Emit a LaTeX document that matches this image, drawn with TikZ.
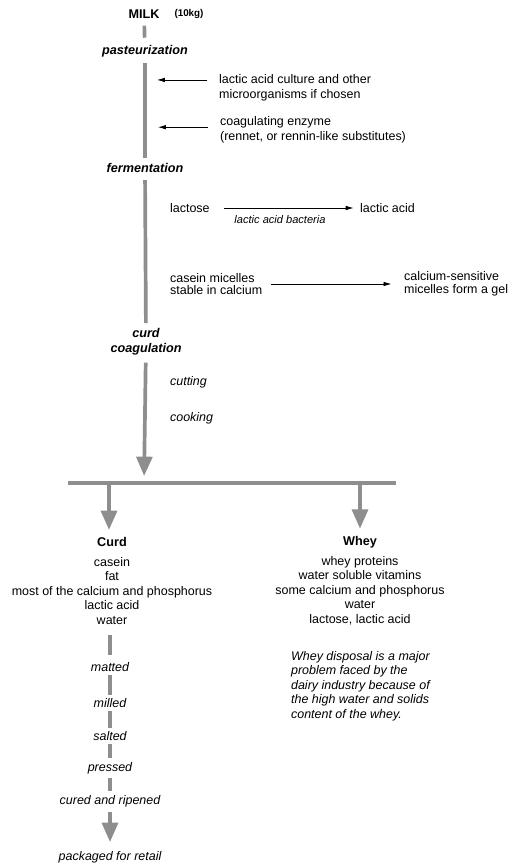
\documentclass[tikz,border=0pt]{standalone}
\usepackage{fontspec}
\setmainfont{Liberation Sans}
\usetikzlibrary{arrows.meta}

\definecolor{Cbargray}{HTML}{8E8E8E}

\begin{document}
\begin{tikzpicture}[x=0.02cm,y=-0.02cm,
	txt/.style={font=\fontsize{7.1}{8.3}\selectfont,inner sep=1pt},
	head/.style={txt,font=\fontsize{7.2}{8.3}\selectfont\bfseries},
	stage/.style={txt,font=\fontsize{7.2}{8.3}\selectfont\bfseries\itshape},
	proc/.style={txt,font=\fontsize{7.1}{8.3}\selectfont\itshape},
	flow/.style={Cbargray,line width=2.1pt},
	flowarrow/.style={flow,-{Triangle[width=9pt,length=11pt]}},
	feed/.style={black,line width=0.45pt,-{Latex[length=4.5pt,width=2.6pt]}}]
	\useasboundingbox (0,0) rectangle (520,865);
	% main line
	\node[head] (milk) at (144,14) {MILK};
	\node[txt,font=\fontsize{5.6}{7}\selectfont\bfseries] (mass) at (189,14) {(10kg)};
	\node[stage] (pasteur) at (145,51) {pasteurization};
	\node[stage] (ferment) at (145,168) {fermentation};
	\node[stage,align=center] (coag) at (146,342) {curd\\coagulation};
	\coordinate (split) at (144,483);
	\coordinate (barL) at (68,483);
	\coordinate (barR) at (396,483);
	\draw[flow,shorten <=3pt,shorten >=3pt] (milk) -- (pasteur);
	\draw[flow,shorten <=2pt,shorten >=2pt] (pasteur) -- (ferment);
	\draw[flow,shorten <=3pt,shorten >=2pt] (ferment) -- (coag);
	\draw[flowarrow,shorten <=3pt,shorten >=4pt] (coag) -- (split);
	\draw[flow] (barL) -- (barR);
	% additions
	\node[txt,anchor=west,align=left] (culture) at (217,87.5)
	{lactic acid culture and other\\microorganisms if chosen};
	\node[txt,anchor=west,align=left] (enzyme) at (218,129.5)
	{coagulating enzyme\\(rennet, or rennin-like substitutes)};
	\draw[feed] ([xshift=-5.7pt,yshift=4.3pt]culture.west) -- ++(-50,0);
	\draw[feed] ([xshift=-5.7pt,yshift=1.3pt]enzyme.west) -- ++(-50,0);
	% fermentation
	\node[txt,anchor=west] (lactose) at (168,208) {lactose};
	\node[txt,anchor=west] (lacticacid) at (358,208) {lactic acid};
	\node[proc,font=\fontsize{6.3}{7.5}\selectfont\itshape] (bacteria) at (280,220) {lactic acid bacteria};
	\draw[feed,shorten <=7pt,shorten >=2.5pt] (lactose) -- (lacticacid);
	\node[txt,anchor=west,align=left,font=\fontsize{7.1}{7.3}\selectfont] (casein) at (168,284)
	{casein micelles\\stable in calcium};
	\node[txt,anchor=west,align=left,font=\fontsize{7.1}{7.3}\selectfont] (gel) at (402,284)
	{calcium-sensitive\\micelles form a gel};
	\draw[feed,shorten <=3.5pt,shorten >=6pt] (casein) -- (gel);
	\node[proc,anchor=west] (cutting) at (168,382) {cutting};
	\node[proc,anchor=west] (cooking) at (168,418) {cooking};
	% curd and whey
	\node[head] (curd) at (112,542) {Curd};
	\node[head] (whey) at (360,542) {Whey};
	\draw[flowarrow,shorten >=3pt] (barL -| curd.center) ++(-3,0) coordinate (curdTop) -- (curdTop |- curd.north);
	\draw[flowarrow,shorten >=3pt] (barR -| whey.center) coordinate (wheyTop) -- (whey);
	\node[txt,align=center,font=\fontsize{7.1}{8.25}\selectfont] (curdlist) at (112,591)
	{casein\\fat\\most of the calcium and phosphorus\\lactic acid\\water};
	\node[txt,align=center,font=\fontsize{7.1}{8.25}\selectfont] (wheylist) at (360,590.5)
	{whey proteins\\water soluble vitamins\\some calcium and phosphorus\\water\\lactose, lactic acid};
	\node[proc,anchor=west,align=left,font=\fontsize{7.1}{8.25}\selectfont\itshape] (disposal) at (289,686)
	{Whey disposal is a major\\problem faced by the\\dairy industry because of\\the high water and solids\\content of the whey.};
	% curd treatment
	\node[proc] (matted) at (110,667) {matted};
	\node[proc] (milled) at (110,703) {milled};
	\node[proc] (salted) at (110,736) {salted};
	\node[proc] (pressed) at (110,768) {pressed};
	\node[proc] (cured) at (110,801) {cured and ripened};
	\node[proc] (packaged) at (110,857) {packaged for retail};
	\draw[flow,shorten <=5pt,shorten >=3pt] (curdlist.south -| matted) -- (matted);
	\draw[flow,shorten <=1pt,shorten >=1pt] (matted) -- (milled);
	\draw[flow,shorten <=1pt,shorten >=1pt] (milled) -- (salted);
	\draw[flow,shorten <=1pt,shorten >=1pt] (salted) -- (pressed);
	\draw[flow,shorten <=1pt,shorten >=1pt] (pressed) -- (cured);
	\draw[flowarrow,shorten <=2pt,shorten >=4pt] (cured) -- (packaged);
\end{tikzpicture}
\end{document}
